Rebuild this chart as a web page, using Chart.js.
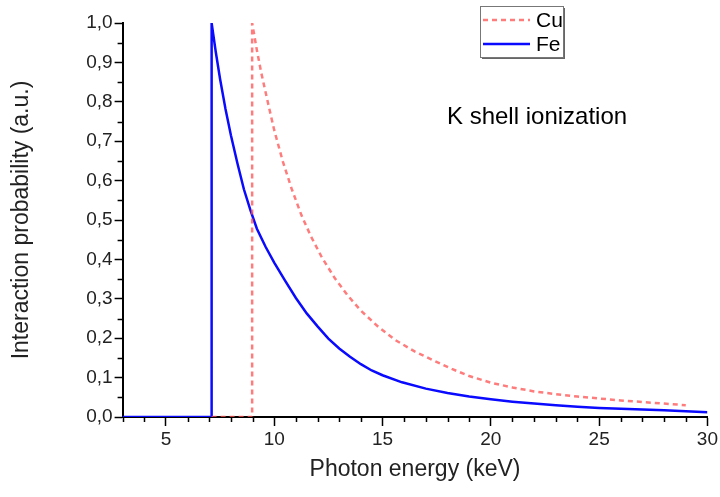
<!DOCTYPE html>
<html>
<head>
<meta charset="utf-8">
<script src="https://cdn.jsdelivr.net/npm/chart.js@4.4.1/dist/chart.umd.min.js"></script>
<style>
  html, body { margin: 0; padding: 0; background: #fff; }
  #wrap { width: 720px; height: 497px; }
</style>
</head>
<body>
<div id="wrap"><canvas id="kShell"></canvas></div>
<script>
// photon energy (keV) and relative interaction probability, Fe K edge
var feEnergy = [3, 7.11, 7.11, 7.3, 7.5, 7.75, 8.0, 8.3, 8.6, 8.9, 9.2, 9.6, 10.0, 10.5, 11.0, 11.5, 12.0, 12.5, 13.0, 13.5, 14.0, 14.5, 15.0, 15.9, 17.0, 18.0, 19.0, 20.0, 21.0, 22.0, 23.0, 24.0, 25.0, 26.0, 27.0, 28.0, 29.0, 30.0];
var feValue  = [0, 0, 1.0, 0.927, 0.858, 0.782, 0.715, 0.644, 0.578, 0.525, 0.478, 0.432, 0.392, 0.346, 0.302, 0.263, 0.230, 0.199, 0.174, 0.153, 0.134, 0.118, 0.106, 0.088, 0.072, 0.061, 0.052, 0.045, 0.039, 0.034, 0.030, 0.026, 0.023, 0.021, 0.019, 0.017, 0.0145, 0.012];

// same for Cu K edge
var cuEnergy = [7.11, 8.98, 8.98, 9.2, 9.4, 9.7, 10.0, 10.4, 10.8, 11.25, 11.7, 12.2, 12.8, 13.4, 14.0, 14.8, 15.6, 16.5, 17.3, 18.2, 19.0, 20.0, 21.0, 22.0, 23.0, 24.0, 25.0, 26.0, 27.0, 28.0, 29.0];
var cuValue  = [0, 0, 1.0, 0.931, 0.874, 0.800, 0.728, 0.648, 0.580, 0.513, 0.458, 0.405, 0.352, 0.308, 0.270, 0.229, 0.195, 0.166, 0.145, 0.122, 0.104, 0.087, 0.075, 0.065, 0.058, 0.052, 0.047, 0.042, 0.038, 0.034, 0.030];

var xTicks = [5, 10, 15, 20, 25, 30];
var yTicks = [0, 0.1, 0.2, 0.3, 0.4, 0.5, 0.6, 0.7, 0.8, 0.9, 1.0];
var seriesNames = ['Cu', 'Fe'];
var noteText = 'K shell ionization';

function pts(xs, ys) {
  var out = [];
  for (var i = 0; i < xs.length; i++) out.push({x: xs[i], y: ys[i]});
  return out;
}

var FONT = 'Liberation Sans, Arial, sans-serif';

// short ticks between the labelled ones
var minorTicks = {
  id: 'minorTicks',
  afterDraw: function(chart) {
    var ctx = chart.ctx, xs = chart.scales.x, ys = chart.scales.y;
    ctx.save();
    ctx.strokeStyle = '#000';
    ctx.lineWidth = 1.5;
    ctx.beginPath();
    for (var e = 3; e <= 30; e++) {
      if (e % 5 === 0) continue;
      var px = Math.round(xs.getPixelForValue(e)) + 0.5;
      ctx.moveTo(px, ys.bottom);
      ctx.lineTo(px, ys.bottom + 5);
    }
    for (var k = 0; k < yTicks.length - 1; k++) {
      var py = Math.round(ys.getPixelForValue((yTicks[k] + yTicks[k + 1]) / 2)) + 0.5;
      ctx.moveTo(xs.left, py);
      ctx.lineTo(xs.left - 5, py);
    }
    ctx.stroke();
    ctx.restore();
  }
};

// framed legend and the note inside the plot
var boxLegend = {
  id: 'boxLegend',
  afterDraw: function(chart) {
    var ctx = chart.ctx;
    var bx = 480, by = 6, bw = 83, bh = 51;
    ctx.save();
    ctx.fillStyle = '#666';
    ctx.fillRect(bx + 2, by + 2, bw, bh);
    ctx.fillStyle = '#fff';
    ctx.fillRect(bx, by, bw, bh);
    ctx.strokeStyle = '#777';
    ctx.lineWidth = 1;
    ctx.strokeRect(bx + 0.5, by + 0.5, bw, bh);

    chart.data.datasets.forEach(function(ds, i) {
      var ly = by + 14 + i * 24;
      ctx.strokeStyle = ds.borderColor;
      ctx.lineWidth = ds.borderWidth;
      ctx.setLineDash(ds.borderDash || []);
      ctx.beginPath();
      ctx.moveTo(bx + 3, ly);
      ctx.lineTo(bx + 50, ly);
      ctx.stroke();
      ctx.setLineDash([]);
      ctx.fillStyle = '#000';
      ctx.font = '21px ' + FONT;
      ctx.textBaseline = 'middle';
      ctx.fillText(ds.label, bx + 56, ly + 1);
    });

    ctx.font = '24px ' + FONT;
    ctx.fillStyle = '#000';
    ctx.textBaseline = 'middle';
    ctx.fillText(noteText, 447, 117);
    ctx.restore();
  }
};

var ctx = document.getElementById('kShell').getContext('2d');
new Chart(ctx, {
  type: 'line',
  data: {
    datasets: [
      {
        label: seriesNames[0],
        data: pts(cuEnergy, cuValue),
        borderColor: 'rgba(255, 80, 80, 0.75)',
        borderWidth: 2.5,
        borderDash: [5, 4],
        pointRadius: 0,
        tension: 0,
        fill: false
      },
      {
        label: seriesNames[1],
        data: pts(feEnergy, feValue),
        borderColor: '#0a0aff',
        borderWidth: 2.5,
        pointRadius: 0,
        tension: 0,
        fill: false
      }
    ]
  },
  options: {
    responsive: true,
    maintainAspectRatio: false,
    animation: false,
    layout: { padding: { top: 23, right: 12, left: 0, bottom: 0 } },
    plugins: {
      legend: { display: false },
      tooltip: { enabled: false }
    },
    scales: {
      x: {
        type: 'linear',
        min: 3,
        max: 30,
        afterBuildTicks: function(scale) {
          scale.ticks = xTicks.map(function(v) { return {value: v}; });
        },
        afterFit: function(scale) { scale.height = 80; },
        grid: { drawOnChartArea: false, tickLength: 9, tickColor: '#000', tickWidth: 1.5 },
        border: { color: '#000', width: 2 },
        ticks: {
          color: '#222',
          font: { family: FONT, size: 19 },
          padding: 2,
          maxRotation: 0,
          autoSkip: false
        },
        title: {
          display: true,
          text: 'Photon energy (keV)',
          color: '#222',
          font: { family: FONT, size: 23 },
          padding: { top: 0, bottom: 14 }
        }
      },
      y: {
        min: 0,
        max: 1,
        afterBuildTicks: function(scale) {
          scale.ticks = yTicks.map(function(v) { return {value: v}; });
        },
        afterFit: function(scale) { scale.width = 122.6; },
        grid: { drawOnChartArea: false, tickLength: 8, tickColor: '#000', tickWidth: 1.5 },
        border: { color: '#000', width: 2 },
        ticks: {
          color: '#222',
          font: { family: FONT, size: 19 },
          padding: 2,
          autoSkip: false,
          callback: function(v) { return v.toFixed(1).replace('.', ','); }
        },
        title: {
          display: true,
          text: 'Interaction probability (a.u.)',
          color: '#222',
          font: { family: FONT, size: 23 },
          padding: { top: 8, bottom: 0 }
        }
      }
    }
  },
  plugins: [minorTicks, boxLegend]
});
</script>
</body>
</html>
